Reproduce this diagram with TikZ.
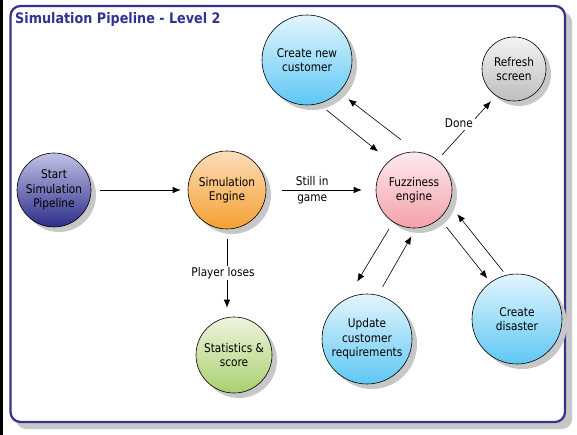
\documentclass[tikz,border=0pt]{standalone}
\usepackage{fontspec}
\setmainfont{DejaVu Sans}[FakeStretch=0.88]
\usetikzlibrary{shadows,arrows.meta}
\definecolor{titleblue}{HTML}{30348F}
\definecolor{stT}{HTML}{C2C2E6}\definecolor{stB}{HTML}{2C2C8A}
\definecolor{seT}{HTML}{FDDDBA}\definecolor{seB}{HTML}{F5A032}
\definecolor{fzT}{HTML}{FDEAEE}\definecolor{fzB}{HTML}{F3A1A9}
\definecolor{blT}{HTML}{E3F5FD}\definecolor{blB}{HTML}{5EC7F4}
\definecolor{rfT}{HTML}{F3F3F3}\definecolor{rfB}{HTML}{BEBEBE}
\definecolor{grT}{HTML}{EEF5DD}\definecolor{grB}{HTML}{A9CF6F}
\newcommand\nodefont{\fontsize{12}{14.5}\selectfont}
\begin{document}
\begin{tikzpicture}[x=1pt,y=-1pt,
  bubble/.style={circle, draw=black, line width=0.6pt, inner sep=0pt, align=center,
    font=\nodefont, text=black,
    drop shadow={shadow xshift=5pt, shadow yshift=-5pt, fill=black!22, opacity=1}},
  arr/.style={-{Latex[length=8pt,width=6.5pt]}, line width=0.6pt},
  lbl/.style={font=\nodefont, inner sep=1.5pt, align=center}]
\useasboundingbox (0,0) rectangle (577,435);
\fill[white] (0,0) rectangle (577,435);
\fill[black] (0,0) rectangle (2.7,435);
% frame
\fill[black!22, rounded corners=10pt] (16,12) rectangle (572,429);
\draw[titleblue, line width=2.2pt, fill=white, rounded corners=10pt] (10.5,6) rectangle (565,422);
\node[anchor=base west, inner sep=0pt, text=titleblue,
  font=\bfseries\fontsize{14.5}{17}\selectfont] (title) at (15,24) {Simulation Pipeline - Level 2};
% nodes
\node[bubble, minimum size=74pt, top color=stT, bottom color=stB] (start) at (54,190) {Start\\Simulation\\Pipeline};
\node[bubble, minimum size=78pt, top color=seT, bottom color=seB] (se) at (227,190) {Simulation\\Engine};
\node[bubble, minimum size=76pt, top color=fzT, bottom color=fzB] (fz) at (414,190) {Fuzziness\\engine};
\node[bubble, minimum size=90pt, top color=blT, bottom color=blB] (cust) at (307,60) {Create new\\customer};
\node[bubble, minimum size=64pt, top color=rfT, bottom color=rfB] (rf) at (514,69) {Refresh\\screen};
\node[bubble, minimum size=76pt, top color=grT, bottom color=grB] (st) at (234,355) {Statistics \&\\score};
\node[bubble, minimum size=90pt, top color=blT, bottom color=blB] (upd) at (367,339) {Update\\customer\\requirements};
\node[bubble, minimum size=90pt, top color=blT, bottom color=blB] (dis) at (517,319) {Create\\disaster};
% connectors
\draw[arr, shorten <=9pt, shorten >=7pt] (start.east) -- (se.west);
\draw[arr, shorten <=16pt, shorten >=14pt] (se.east) -- (fz.west)
  node[lbl, pos=0.42] {Still in\\[1.5pt]game};
\draw[arr, shorten <=10pt, shorten >=9pt] (se.south) -- (se.south |- st.north)
  node[lbl, pos=0.5, fill=white, xshift=-4pt] {Player loses};
\draw[arr, shorten <=6.9pt, shorten >=7.5pt] (fz.52) -- (rf.-124)
  node[lbl, pos=0.57, fill=white, xshift=-12pt, inner sep=2pt] {Done};
\draw[arr, shorten <=10.2pt, shorten >=14.5pt] (cust.-75.7) -- (fz.130.5);
\draw[arr, shorten <=19.8pt, shorten >=11.7pt] (fz.86) -- (cust.-45);
\draw[arr, shorten <=8.3pt, shorten >=19.5pt] (fz.-123) -- (upd.116.5);
\draw[arr, shorten <=9.5pt, shorten >=9.3pt] (upd.76.8) -- (fz.-87.6);
\draw[arr, shorten <=10.9pt, shorten >=5pt] (fz.-48.4) -- (dis.126.7);
\draw[arr, shorten <=4.4pt, shorten >=12.5pt] (dis.104.5) -- (fz.-22);
\end{tikzpicture}
\end{document}
